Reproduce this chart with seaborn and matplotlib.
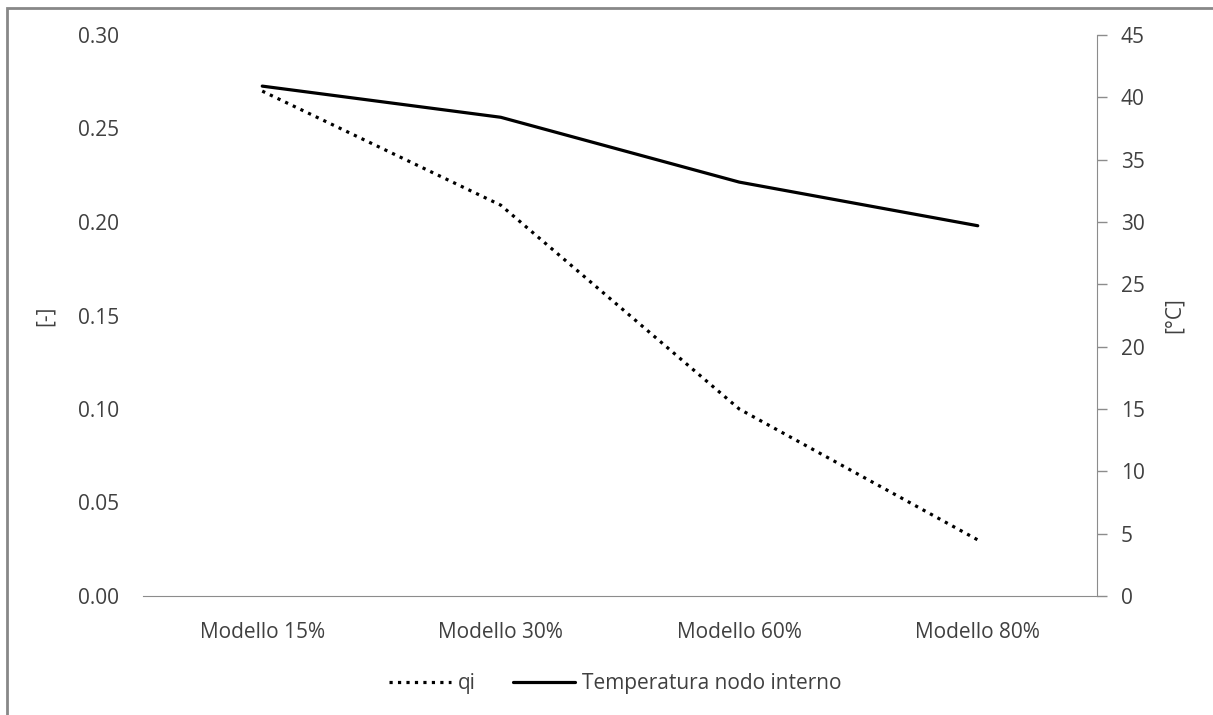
import matplotlib
matplotlib.use("Agg")
import matplotlib.pyplot as plt
import seaborn as sns
import pandas as pd
from matplotlib.patches import Rectangle

# data
categories = ["Modello 15%", "Modello 30%", "Modello 60%", "Modello 80%"]
qi = [0.27, 0.209, 0.100, 0.030]
temperatura = [40.9, 38.4, 33.2, 29.7]

df = pd.DataFrame({"modello": categories, "qi": qi, "temp": temperatura})

sns.set_style("white")
plt.rcParams["font.family"] = ["Open Sans", "DejaVu Sans"]
text_col = "#404040"
axis_col = "#8c8c8c"
fs = 15

fig = plt.figure(figsize=(12.13, 7.15), dpi=100)
ax = fig.add_axes([143/1213, 1 - 596/715, (1097 - 143)/1213, (596 - 35)/715])
ax2 = ax.twinx()

sns.lineplot(data=df, x="modello", y="qi", ax=ax, color="black", lw=2.3,
             linestyle=":", label="qi", legend=False)
sns.lineplot(data=df, x="modello", y="temp", ax=ax2, color="black", lw=2.3,
             label="Temperatura nodo interno", legend=False)

ax.set_xlim(-0.5, 3.5)
ax.set_ylim(0, 0.30)
ax.set_yticks([i * 0.05 for i in range(7)])
ax.set_yticklabels([f"{i * 0.05:.2f}" for i in range(7)])
ax2.set_ylim(0, 45)
ax2.set_yticks(range(0, 46, 5))

for a in (ax, ax2):
    for s in a.spines.values():
        s.set_visible(False)
ax.spines["bottom"].set_visible(True)
ax.spines["bottom"].set_color(axis_col)
ax2.spines["right"].set_visible(True)
ax2.spines["right"].set_color(axis_col)

ax.tick_params(axis="x", length=0, pad=19, labelsize=fs, labelcolor=text_col)
ax.tick_params(axis="y", length=0, pad=17, labelsize=fs, labelcolor=text_col)
ax2.tick_params(axis="y", length=7, width=1, color=axis_col, pad=10,
                labelsize=fs, labelcolor=text_col)

ax.set_xlabel("")
ax.set_ylabel("[-]", fontsize=fs, color=text_col, labelpad=16)
ax2.set_ylabel("[°C]", fontsize=fs, color=text_col, labelpad=14)
ax.grid(False)
ax2.grid(False)

h1, l1 = ax.get_legend_handles_labels()
h2, l2 = ax2.get_legend_handles_labels()
fig.legend(h1 + h2, l1 + l2, loc="center", ncol=2, frameon=False,
           bbox_to_anchor=(615/1213, 1 - 684/715), fontsize=fs,
           labelcolor=text_col, handlelength=3.0, handletextpad=0.3,
           columnspacing=1.8)

# outer chart frame
fig.patches.append(Rectangle((7/1213, -0.05), 1.1, 1 - 8/715 + 0.05,
                             transform=fig.transFigure, fill=False,
                             edgecolor="#888888", lw=2))

fig.savefig("out.png", dpi=100)
